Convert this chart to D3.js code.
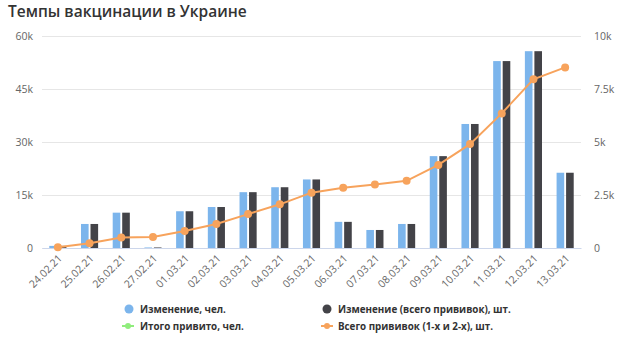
<!DOCTYPE html>
<html><head><meta charset="utf-8">
<script src="https://cdn.jsdelivr.net/npm/d3@7"></script>
<style>body{margin:0;background:#fff}svg{display:block;font-family:"Open Sans",sans-serif}</style>
</head><body><svg id="c" width="620" height="337"></svg>
<script>
const categories = ["24.02.21","25.02.21","26.02.21","27.02.21","01.03.21","02.03.21","03.03.21","04.03.21","05.03.21","06.03.21","07.03.21","08.03.21","09.03.21","10.03.21","11.03.21","12.03.21","13.03.21"];
const changePeople = [600,6800,10000,150,10400,11600,15800,17200,19400,7400,5100,6800,26000,35100,52900,55700,21300];
const changeTotal  = [600,6800,10000,150,10400,11600,15800,17200,19400,7400,5100,6800,26000,35100,52900,55700,21300];
const totalShots   = [30,220,490,520,800,1130,1600,2060,2610,2840,3000,3170,3920,4900,6350,7960,8520];
const leftTicks = [0,15000,30000,45000,60000];
const leftTickLabels = ["0","15k","30k","45k","60k"];
const rightTicks = [0,2500,5000,7500,10000];
const rightTickLabels = ["0","2.5k","5k","7.5k","10k"];
const legendLabels = ["Изменение, чел.","Изменение (всего прививок), шт.","Итого привито, чел.","Всего прививок (1-х и 2-х), шт."];
const colors = ["#7cb5ec","#434348","#90ed7d","#f7a35c"];

const svg = d3.select("#c");
const L=42, R=581, T=36, B=248;
const x = d3.scaleBand().domain(categories).range([L,R]).paddingInner(0).paddingOuter(0);
const yL = d3.scaleLinear().domain([0,60000]).range([B,T]);
const yR = d3.scaleLinear().domain([0,10000]).range([B,T]);

svg.append("text").attr("x",8).attr("y",17).attr("font-size",15.5).attr("font-weight",600).attr("fill","#333").text("Темпы вакцинации в Украине");

// grid
const gl = d3.axisLeft(yL).tickValues(leftTicks).tickSize(-(R-L)).tickFormat((d,i)=>leftTickLabels[i]).tickPadding(9);
const gL = svg.append("g").attr("transform",`translate(${L},0)`).call(gl);
gL.select(".domain").remove();
gL.selectAll("line").attr("stroke","#e6e6e6");
gL.selectAll("text").style("fill","#666").attr("font-size",10.5).attr("font-family","Open Sans, sans-serif");

const gr = d3.axisRight(yR).tickValues(rightTicks).tickSize(0).tickFormat((d,i)=>rightTickLabels[i]).tickPadding(13);
const gR = svg.append("g").attr("transform",`translate(${R},0)`).call(gr);
gR.select(".domain").remove();
gR.selectAll("text").style("fill","#666").attr("font-size",10.5).attr("font-family","Open Sans, sans-serif");

// x axis
const gx = svg.append("g").attr("transform",`translate(0,${B})`).call(d3.axisBottom(x).tickSize(0).tickPadding(0));
gx.select(".domain").attr("stroke","#ccd6eb");
gx.selectAll(".tick").attr("opacity",0.99);
gx.selectAll("text").style("fill","#666").attr("font-size",10.5).attr("font-family","Open Sans, sans-serif")
  .attr("text-anchor","end").attr("dy",0).attr("transform","translate(5,11) rotate(-45)");

// bars
const bw = x.bandwidth();
const grp = bw*0.6, sw = grp/2, pad = sw*0.1;
const bars = svg.append("g");
[changePeople, changeTotal].forEach((arr,s)=>{
  bars.selectAll(null).data(arr).enter().append("rect")
    .attr("x",(d,i)=>x(categories[i])+bw*0.2+s*sw+pad)
    .attr("width",sw-2*pad)
    .attr("y",d=>yL(d)).attr("height",d=>B-yL(d))
    .attr("fill",colors[s]);
});

// line
const line = d3.line().x((d,i)=>x(categories[i])+bw/2).y(d=>yR(d));
svg.append("path").datum(totalShots).attr("d",line).attr("fill","none").attr("stroke",colors[3]).attr("stroke-width",2);
svg.append("g").selectAll("circle").data(totalShots).enter().append("circle")
  .attr("cx",(d,i)=>x(categories[i])+bw/2).attr("cy",d=>yR(d)).attr("r",4).attr("fill",colors[3]);

// legend
const lg = svg.append("g");
const pos = [[129,313,140],[327,313,338],[128,330,140],[327,330,338]];
legendLabels.forEach((t,i)=>{
  const [px,py,tx] = pos[i];
  if(i<2){
    lg.append("circle").attr("cx",px).attr("cy",py-4).attr("r",4.5).attr("fill",colors[i]);
  } else {
    lg.append("line").attr("x1",px-6).attr("x2",px+6).attr("y1",py-4).attr("y2",py-4).attr("stroke",colors[i]).attr("stroke-width",2);
    lg.append("circle").attr("cx",px).attr("cy",py-4).attr("r",3).attr("fill",colors[i]);
  }
  lg.append("text").attr("x",tx).attr("y",py).attr("font-size",9.8).attr("font-weight",700).attr("fill","#333").text(t);
});
</script></body></html>
